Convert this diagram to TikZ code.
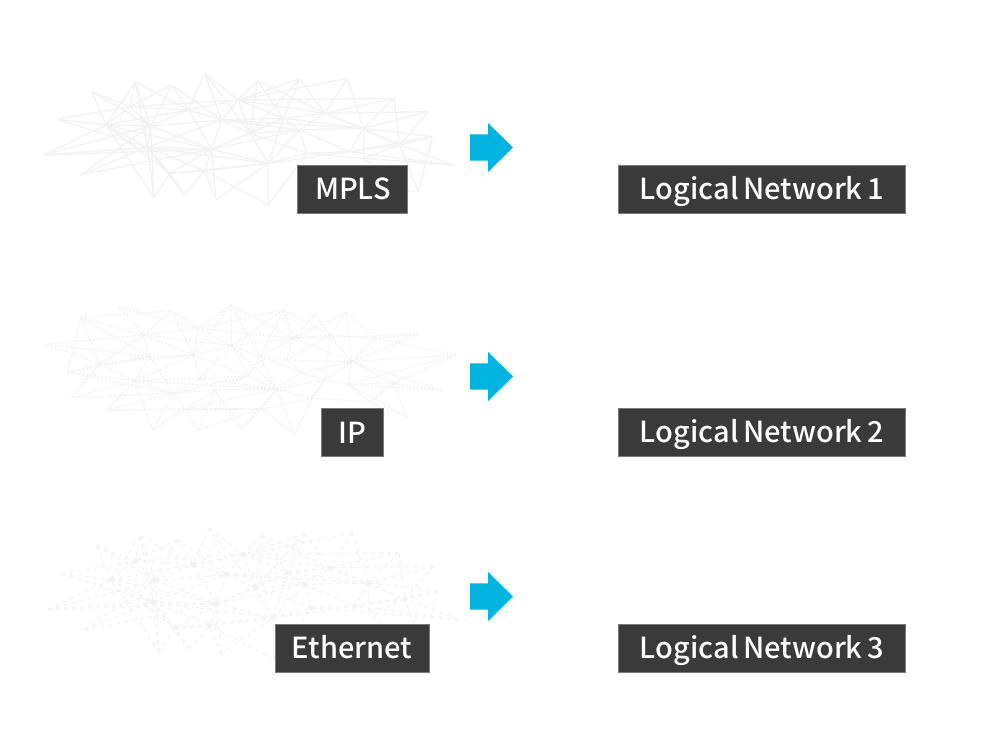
\documentclass[tikz,border=0pt]{standalone}
\usepackage{fontspec}
\setmainfont{Noto Sans CJK KR Medium}[WordSpace=0.75]
\definecolor{arrowblue}{HTML}{00B4DF}
\definecolor{boxgrey}{HTML}{3A3A3A}
\definecolor{netgrey}{HTML}{F2F2F2}
\tikzset{
  label box/.style={draw=black!52,line width=0.6pt,fill=boxgrey,text=white,inner sep=0pt,font=\fontsize{29}{32}\selectfont,anchor=center,minimum height=48pt,text height=21pt,text depth=0pt},
  solid net/.style={draw=netgrey,line width=1.3pt},
  dotted net/.style={draw=netgrey,line width=1.2pt,dash pattern=on 2.4pt off 1.4pt},
  dashed net/.style={draw=netgrey,line width=1.2pt,dash pattern=on 4pt off 4pt},
  hub/.style={fill=netgrey,draw=none}
}
\newcommand{\meshA}[1]{%
  \foreach \n/\x/\y in {A/80/178,B/185/95,C/316/65,D/425/75,E/524/40,F/682/62,G/810/57,H/952/55,I/1092/115,J/1195/155,K/1207/230,L/1270/315,M/1165/395,N/715/435,O/558/420,P/462/403,Q/372/413,R/150/345,S/40/285,
    a/228/195,b/362/198,c/352/262,d/575/180,e/545/268,f/715/310,g/660/220,h/625/120,i/760/175,j/808/210,k/885/160,l/1000/205,m/830/280,n/1110/255,o/960/275,p/420/340,q/525/333,r/475/150,s/300/140,t/1000/295,u/1140/395}
    \coordinate (\n) at (\x,\y);
  \foreach \u/\v in {A/s,A/a,A/c,B/a,B/s,B/b,C/a,C/b,C/r,C/c,C/s,D/b,D/r,D/d,D/s,E/r,E/h,E/d,E/g,F/h,F/g,F/i,F/k,G/h,G/i,G/k,G/g,H/k,H/h,H/l,I/h,I/k,I/l,I/n,J/l,J/k,J/n,K/l,K/o,K/n,K/M,L/n,L/o,L/t,M/n,M/u,u/t,
    S/a,S/c,S/b,S/e,R/c,R/b,R/e,Q/c,Q/a,Q/p,Q/b,P/p,P/q,P/c,O/q,O/f,O/e,N/f,N/q,N/m,
    a/b,a/c,a/s,a/r,a/e,a/p,b/c,b/d,b/e,b/s,b/r,c/e,c/p,c/q,c/d,c/f,s/r,s/h,r/d,r/h,r/e,d/e,d/g,d/h,d/i,d/l,d/j,e/f,e/g,e/q,e/p,e/i,e/j,f/g,f/q,f/p,f/j,f/m,f/o,f/i,g/h,g/i,g/j,g/m,h/i,h/k,i/j,i/k,i/l,j/k,j/l,j/m,j/o,k/l,k/n,l/n,l/o,l/t,m/o,m/t,n/o,n/t,p/q}
    \draw[#1] (\u) -- (\v);}
\newcommand{\meshB}[1]{%
  \foreach \n/\x/\y in {A/50/148,B/152/68,C/265/35,D/425/47,E/603/30,F/760/45,G/855/58,H/948/52,I/1035/130,J/1165/118,K/1278/180,L/1235/285,M/1130/365,N/795/420,O/635/400,P/505/405,Q/368/405,R/228/345,S/125/307,T/112/232,
    a/210/207,b/340/120,c/315/258,d/360/185,e/490/180,f/505/100,g/605/152,h/510/250,i/555/285,j/430/295,k/655/243,l/740/282,m/790/130,n/690/185,o/770/195,p/900/120,q/965/200,r/885/255,s/955/268,t/1090/265,u/815/232,v/695/342,w/845/310,x/1020/320,y/465/342}
    \coordinate (\n) at (\x,\y);
  \foreach \u/\v in {A/b,A/a,A/d,B/D,B/a,B/b,B/T,B/d,C/b,C/f,D/b,D/f,D/e,E/f,E/g,E/e,E/m,E/n,F/f,F/m,F/g,F/n,F/p,G/m,G/p,H/p,H/q,H/m,H/I,I/J,I/q,I/p,J/q,J/m,K/q,K/I,K/t,K/s,L/t,L/q,L/s,M/t,M/s,M/x,N/w,N/l,N/v,O/v,O/i,O/l,P/v,P/y,P/i,Q/y,Q/c,Q/j,R/c,R/j,R/v,R/y,S/c,S/a,S/j,T/a,T/c,T/d,T/j,
    a/b,a/c,a/d,a/e,b/d,b/f,b/e,b/g,c/d,c/j,c/h,c/e,c/l,d/e,d/j,e/f,e/g,e/h,e/k,f/g,f/m,g/h,g/k,g/n,g/m,g/l,h/i,h/j,h/k,h/l,i/j,i/k,i/l,i/y,j/y,j/k,k/l,k/n,l/n,l/u,l/v,l/w,l/r,m/n,m/o,m/p,m/q,n/o,n/u,o/u,o/q,o/p,p/q,p/r,q/r,q/s,q/t,r/s,r/u,r/w,s/t,s/x,t/x,u/q,v/w,v/y,w/x,w/r,l/y}
    \draw[#1] (\u) -- (\v);}
\begin{document}
\begin{tikzpicture}[x=1pt,y=-1pt]
\useasboundingbox (0,0) rectangle (1000,750);
% networks
\begin{scope}[shift={(30,60)},x=0.3333pt,y=-0.3333pt]
  \meshA{solid net}
\end{scope}
\begin{scope}[shift={(30,295)},x=0.3333pt,y=-0.3333pt]
  \meshB{dotted net}
  \foreach \h in {a,b,c,e,g,h,l,m,q,s,t}
    \fill[hub] (\h) circle (6);
\end{scope}
\begin{scope}[shift={(35,514.5)},x=0.3333pt,y=-0.3333pt]
  \meshA{dashed net}
  \foreach \h in {a,b,c,d,e,f,g,h,i,j,k,l,m,n,o,p,q,r,s}
    \fill[hub] (\h) circle (8);
\end{scope}
% arrows
\foreach \ay in {147.5,376.5,596.5}
  \fill[arrowblue,shift={(0,\ay)}] (470,-13.2) -- (488,-13.2) -- (488,-24.5) -- (513,0) -- (488,24.5) -- (488,13.2) -- (470,13.2) -- cycle;
% labels
\node[label box,minimum width=110pt] (mpls) at (352,189) {\hspace*{2pt}MPLS};
\node[label box,minimum width=287pt] (ln1) at (761.5,189) {\hspace*{1pt}Logical Network 1};
\node[label box,minimum width=62pt] (ip) at (352,432.5) {\hspace*{1pt}IP};
\node[label box,minimum width=287pt] (ln2) at (761.5,432) {\hspace*{1pt}Logical Network 2};
\node[label box,minimum width=154pt] (eth) at (352,648) {Ethernet};
\node[label box,minimum width=287pt] (ln3) at (761.5,648) {\hspace*{1pt}Logical Network 3};
\end{tikzpicture}
\end{document}
